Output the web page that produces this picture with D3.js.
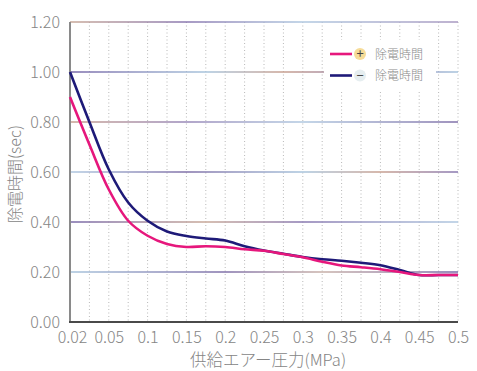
<!DOCTYPE html>
<html><head><meta charset="utf-8">
<script src="https://cdn.jsdelivr.net/npm/d3@7/dist/d3.min.js"></script>
<style>
html,body{margin:0;padding:0;background:#fff;}
svg{display:block;}
text{font-family:"Noto Sans CJK JP","Noto Sans",sans-serif;}
</style></head>
<body>
<script>
// ---- data ----
const xTicks = [0.02,0.05,0.1,0.15,0.2,0.25,0.3,0.35,0.4,0.45,0.5];
const xTickLabels = ["0.02","0.05","0.1","0.15","0.2","0.25","0.3","0.35","0.4","0.45","0.5"];
const yTicks = [0,0.2,0.4,0.6,0.8,1.0,1.2];
const pressure = [0.02,0.035,0.05,0.075,0.1,0.125,0.15,0.175,0.2,0.225,0.25,0.275,0.3,0.325,0.35,0.375,0.4,0.425,0.45,0.475,0.5];
const plusTime  = [0.90,0.71,0.53,0.405,0.345,0.312,0.300,0.303,0.300,0.291,0.285,0.272,0.259,0.241,0.226,0.219,0.211,0.200,0.188,0.188,0.188];
const minusTime = [1.00,0.80,0.61,0.478,0.405,0.362,0.344,0.334,0.326,0.303,0.286,0.273,0.260,0.251,0.245,0.237,0.227,0.208,0.188,0.188,0.188];
const seriesNames = ["除電時間","除電時間"];
const seriesSigns = ["+","−"];
const xTitle = "供給エアー圧力(MPa)";
const yTitle = "除電時間(sec)";

// ---- layout ----
const W=477,H=371;
const pL=70,pR=458,pT=22,pB=322;
const svg=d3.select("body").append("svg").attr("width",W).attr("height",H);

// polylinear x scale: evenly spaced tick positions
const x=d3.scaleLinear()
  .domain(xTicks)
  .range(xTicks.map((d,i)=>pL+i*(pR-pL)/(xTicks.length-1)));
const y=d3.scaleLinear().domain([0,1.2]).range([pB,pT]);

// gradients for horizontal grid lines
const defs=svg.append("defs");
const gradStops=[
  [["0","#c8a898"],["0.3","#8a78b0"],["0.55","#c0b0c8"],["0.75","#8878b0"],["1","#b8c8dc"]],
  [["0","#a8c4dc"],["0.4","#8070a8"],["0.65","#c8b0a8"],["1","#7868a8"]],
  [["0","#7868a8"],["0.35","#c8a898"],["0.6","#8878b0"],["1","#b0c8e0"]],
  [["0","#b0c8e0"],["0.3","#8070a8"],["0.6","#a8c4dc"],["0.8","#c8a090"],["1","#8878b0"]],
  [["0","#c8a090"],["0.3","#9888b8"],["0.6","#b0c8e0"],["1","#8070a8"]],
  [["0","#7868a8"],["0.35","#a8c4dc"],["0.55","#c8a090"],["0.8","#8878b0"],["1","#a8c4dc"]],
  [["0","#c8a898"],["0.3","#8a78b0"],["0.6","#b0c8e0"],["1","#a898c0"]]
];
yTicks.forEach((t,i)=>{
  const g=defs.append("linearGradient").attr("id","g"+i)
    .attr("gradientUnits","userSpaceOnUse").attr("x1",pL).attr("x2",pR).attr("y1",0).attr("y2",0);
  gradStops[i%gradStops.length].forEach(s=>g.append("stop").attr("offset",s[0]).attr("stop-color",s[1]));
});

// vertical dotted grid (half steps)
const nHalf=(xTicks.length-1)*2;
const halfPos=d3.range(1,nHalf+1).map(k=>pL+k*(pR-pL)/nHalf);
svg.append("g").selectAll("line").data(halfPos).join("line")
  .attr("x1",d=>d).attr("x2",d=>d).attr("y1",pT).attr("y2",pB)
  .attr("stroke","#b8b8b8").attr("stroke-width",1).attr("stroke-dasharray","1,2.5");

// horizontal grid
svg.append("g").selectAll("line").data(yTicks.filter(d=>d>0)).join("line")
  .attr("x1",pL).attr("x2",pR).attr("y1",d=>y(d)).attr("y2",d=>y(d))
  .attr("stroke",(d,i)=>"url(#g"+(i+1)+")").attr("stroke-width",1.5);

// legend white box
svg.append("rect").attr("x",324).attr("y",40).attr("width",112).attr("height",50).attr("fill","#fff");

// axes lines
svg.append("line").attr("x1",pL).attr("x2",pL).attr("y1",pT).attr("y2",pB)
  .attr("stroke","#8a8a8a").attr("stroke-width",2);
svg.append("line").attr("x1",pL-1).attr("x2",pR).attr("y1",pB).attr("y2",pB)
  .attr("stroke","#4a4a4a").attr("stroke-width",2);

const fontFam='"Noto Sans CJK JP","Noto Sans",sans-serif';
// y tick labels
const yAxis=d3.axisLeft(y).tickValues(yTicks).tickFormat(d3.format(".2f")).tickSize(0).tickPadding(10);
const ya=svg.append("g").attr("transform",`translate(${pL},0)`).call(yAxis);
ya.select(".domain").remove();
ya.selectAll("text").attr("font-size",16).attr("font-weight",300).attr("fill","#858585")
  .style("font-family",fontFam).attr("dy","0.36em");

// x tick labels
const xAxis=d3.axisBottom(x).tickValues(xTicks).tickFormat((d,i)=>xTickLabels[i]).tickSize(0).tickPadding(10);
const xa=svg.append("g").attr("transform",`translate(0,${pB})`).call(xAxis);
xa.select(".domain").remove();
xa.selectAll("text").attr("font-size",16).attr("font-weight",300).attr("fill","#858585")
  .style("font-family",fontFam);
xa.selectAll(".tick").filter((d,i)=>i===0).select("text").attr("dx","2");

// titles
svg.append("text").attr("x",268).attr("y",366).attr("text-anchor","middle")
  .attr("font-size",16.5).attr("font-weight",300).attr("fill","#858585").text(xTitle);
svg.append("text").attr("transform","translate(21,174) rotate(-90)").attr("text-anchor","middle")
  .attr("font-size",16).attr("font-weight",300).attr("fill","#858585").text(yTitle);

// curves
const line=d3.line().x(d=>x(d[0])).y(d=>y(d[1])).curve(d3.curveCatmullRom.alpha(0.5));
const colors=["#e6177c","#1e1a78"];
svg.append("path").datum(pressure.map((p,i)=>[p,minusTime[i]])).attr("d",line)
  .attr("fill","none").attr("stroke",colors[1]).attr("stroke-width",2.6);
svg.append("path").datum(pressure.map((p,i)=>[p,plusTime[i]])).attr("d",line)
  .attr("fill","none").attr("stroke",colors[0]).attr("stroke-width",2.6);

// legend
const lg=svg.append("g");
const iconFill=["#f6dc98","#e6eef0"];
[0,1].forEach(i=>{
  const cy=54+i*21.5;
  lg.append("line").attr("x1",330).attr("x2",352).attr("y1",cy).attr("y2",cy)
    .attr("stroke",colors[i]).attr("stroke-width",2.6);
  lg.append("circle").attr("cx",360).attr("cy",cy).attr("r",6).attr("fill",iconFill[i]);
  lg.append("text").attr("x",360).attr("y",cy).attr("dy","0.34em").attr("text-anchor","middle")
    .attr("font-size",13).attr("fill","#444").attr("font-weight",400).text(seriesSigns[i]);
  lg.append("text").attr("x",375).attr("y",cy+4.5).attr("font-size",12).attr("font-weight",300)
    .attr("fill","#8a8a8a").text(seriesNames[i]);
});
</script>
</body></html>
